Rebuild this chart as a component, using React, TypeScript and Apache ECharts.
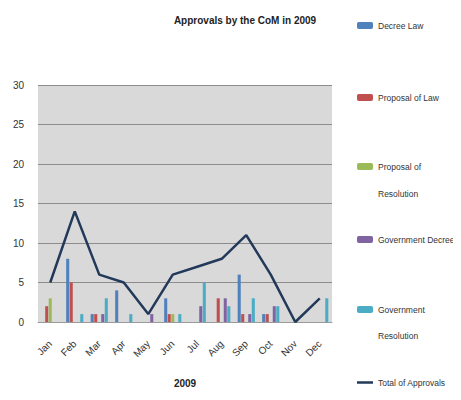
import React, { useEffect, useRef } from "react";
import * as echarts from "echarts";

const months = ["Jan", "Feb", "Mar", "Apr", "May", "Jun", "Jul", "Aug", "Sep", "Oct", "Nov", "Dec"];
const decreeLaw = [0, 8, 1, 4, 0, 3, 0, 0, 6, 1, 0, 0];
const proposalOfLaw = [2, 5, 1, 0, 0, 1, 0, 3, 1, 1, 0, 0];
const proposalOfResolution = [3, 0, 0, 0, 0, 1, 0, 0, 0, 0, 0, 0];
const governmentDecree = [0, 0, 1, 0, 1, 0, 2, 3, 1, 2, 0, 0];
const governmentResolution = [0, 1, 3, 1, 0, 1, 5, 2, 3, 2, 0, 3];
const totalApprovals = [5, 14, 6, 5, 1, 6, 7, 8, 11, 6, 0, 3];
const yTicks = [0, 5, 10, 15, 20, 25, 30];

const FONT = "'Liberation Sans', Arial, sans-serif";

const colors = {
  dl: "#4F81BD",
  pl: "#C0504D",
  pr: "#9BBB59",
  gd: "#8064A2",
  gr: "#4BACC6",
  total: "#22395A",
};

export default function App() {
  const ref = useRef<HTMLDivElement>(null);
  useEffect(() => {
    if (!ref.current) return;
    const chart = echarts.init(ref.current, null, { renderer: "svg" });
    const barSeries = (name: string, data: number[], color: string) => ({
      name,
      type: "bar",
      data,
      itemStyle: { color },
      barGap: "15%",
      barCategoryGap: "30%",
    });
    const legendText = { fontFamily: FONT, fontSize: 8.5, color: "#333" };
    const mkLegend = (name: string, top: number, formatter?: string) => ({
      data: [name],
      left: 357,
      top,
      padding: 0,
      itemWidth: 16,
      itemHeight: 7,
      itemGap: 2,
      textStyle: legendText,
      formatter: formatter ? () => formatter : undefined,
    });
    chart.setOption({
      animation: false,
      backgroundColor: "#ffffff",
      title: {
        text: "Approvals by the CoM in 2009",
        left: 240,
        textAlign: "center",
        top: 10,
        textStyle: { fontFamily: FONT, fontSize: 10, fontWeight: "bold", color: "#222" },
      },
      legend: [
        mkLegend("Decree Law", 21),
        mkLegend("Proposal of Law", 93),
        mkLegend("Proposal of Resolution", 162, "Proposal of"),
        mkLegend("Government Decree", 235),
        mkLegend("Government Resolution", 305, "Government"),
        {
          data: [{ name: "Total of Approvals", icon: "rect" }],
          left: 357,
          top: 378,
          padding: 0,
          itemWidth: 16,
          itemHeight: 2.5,
          textStyle: legendText,
        },
      ],
      graphic: [
        {
          type: "text",
          left: 378,
          top: 189,
          style: { text: "Resolution", fontFamily: FONT, fontSize: 8.5, fill: "#333" },
        },
        {
          type: "text",
          left: 378,
          top: 331,
          style: { text: "Resolution", fontFamily: FONT, fontSize: 8.5, fill: "#333" },
        },
      ],
      grid: {
        left: 38,
        right: 129,
        top: 85,
        bottom: 78,
        show: true,
        backgroundColor: "#D9D9D9",
        borderWidth: 0,
      },
      xAxis: {
        type: "category",
        data: months,
        name: "2009",
        nameLocation: "middle",
        nameGap: 56,
        nameTextStyle: { fontFamily: FONT, fontSize: 10, fontWeight: "bold", color: "#222" },
        axisLine: { show: true, lineStyle: { color: "#9a9a9a" } },
        axisTick: { show: false },
        axisLabel: { rotate: 45, fontFamily: FONT, fontSize: 10, color: "#333", margin: 20 },
      },
      yAxis: {
        type: "value",
        min: yTicks[0],
        max: yTicks[yTicks.length - 1],
        interval: 5,
        axisLine: { show: false },
        axisTick: { show: false },
        axisLabel: { fontFamily: FONT, fontSize: 10, color: "#333", margin: 14 },
        splitLine: { lineStyle: { color: "#8c8c8c", width: 1 } },
      },
      series: [
        barSeries("Decree Law", decreeLaw, colors.dl),
        barSeries("Proposal of Law", proposalOfLaw, colors.pl),
        barSeries("Proposal of Resolution", proposalOfResolution, colors.pr),
        barSeries("Government Decree", governmentDecree, colors.gd),
        barSeries("Government Resolution", governmentResolution, colors.gr),
        {
          name: "Total of Approvals",
          type: "line",
          data: totalApprovals,
          showSymbol: false,
          symbol: "none",
          itemStyle: { color: colors.total },
          lineStyle: { color: colors.total, width: 2.5 },
        },
      ],
    });
    return () => chart.dispose();
  }, []);
  return <div ref={ref} style={{ width: 461, height: 400, margin: -8 }} />;
}
